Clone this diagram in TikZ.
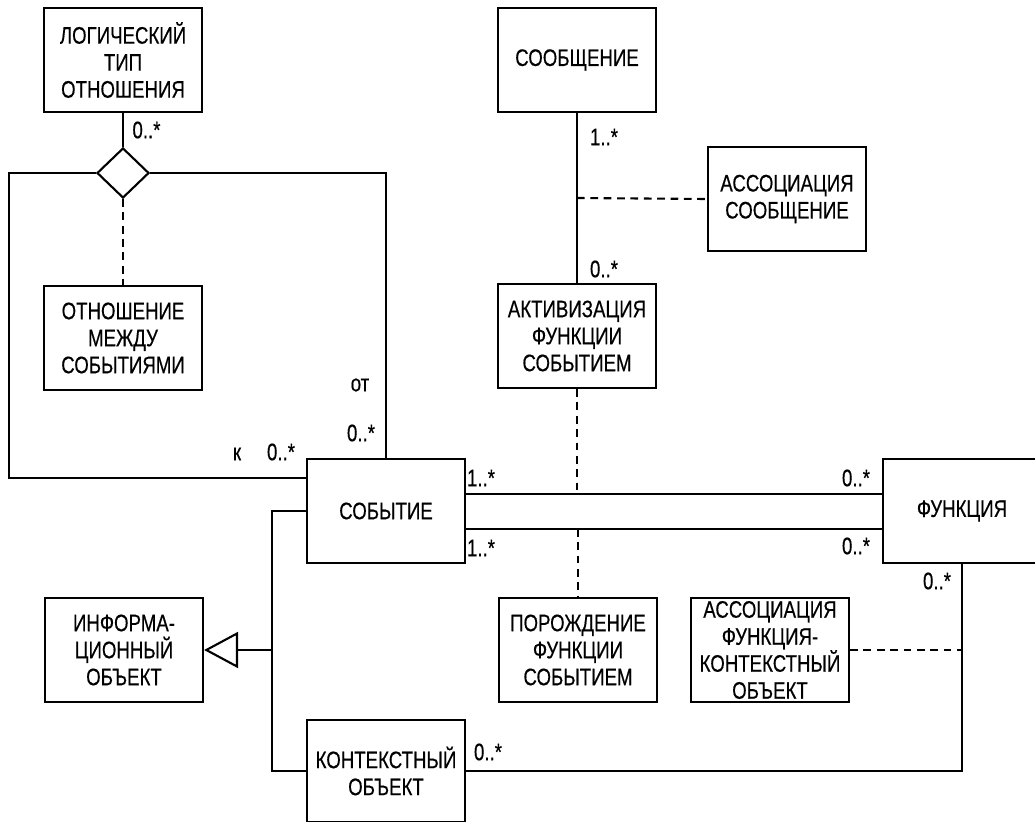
\documentclass[tikz,border=0pt]{standalone}
\usepackage{fontspec}
\setmainfont{Liberation Sans}[FakeStretch=0.78, FakeBold=0.4]
\usepackage{tikz}
\usetikzlibrary{shapes.geometric,arrows.meta,calc}

\tikzset{
    entity/.style={draw, line width=1.5pt, minimum width=3.95cm, minimum height=2.6cm,
        align=center, inner sep=0pt},
    mult/.style={inner sep=0pt},
    assoc/.style={dash pattern=on 5.5pt off 4pt}
}

\begin{document}
\begin{tikzpicture}[x=0.025cm, y=-0.025cm, line width=1.5pt,
    font=\fontsize{17}{19.2}\selectfont]
    \useasboundingbox (0,0) rectangle (1035,822);

    % entities
    \node[entity] (logtip) at (123, 60) {ЛОГИЧЕСКИЙ\\ТИП\\ОТНОШЕНИЯ};
    \node[entity] (otnosh) at (123, 338) {ОТНОШЕНИЕ\\МЕЖДУ\\СОБЫТИЯМИ};
    \node[entity] (sobyt) at (386, 511) {СОБЫТИЕ};
    \node[entity] (info) at (124, 650) {ИНФОРМА-\\ЦИОННЫЙ\\ОБЪЕКТ};
    \node[entity, minimum height=2.55cm] (kontekst) at (386, 771) {КОНТЕКСТНЫЙ\\ОБЪЕКТ};
    \node[entity] (soobsh) at (577, 60) {СООБЩЕНИЕ};
    \node[entity] (assocsoob) at (787, 199) {АССОЦИАЦИЯ\\СООБЩЕНИЕ};
    \node[entity] (aktiv) at (577, 336) {АКТИВИЗАЦИЯ\\ФУНКЦИИ\\СОБЫТИЕМ};
    \node[entity] (porozh) at (578, 650) {ПОРОЖДЕНИЕ\\ФУНКЦИИ\\СОБЫТИЕМ};
    \node[entity] (assocfk) at (770, 650) {АССОЦИАЦИЯ\\ФУНКЦИЯ-\\КОНТЕКСТНЫЙ\\ОБЪЕКТ};
    \node[entity] (funk) at (962, 511) {ФУНКЦИЯ};

    % aggregation diamond
    \node[draw, diamond, aspect=1.04, minimum width=1.3cm, minimum height=1.25cm,
        inner sep=0pt, fill=white] (agg) at (123, 173) {};

    % relation between events
    \coordinate (loopL) at (9, 478);
    \draw (logtip.south) -- (agg.north) node[mult, pos=0.5, right=6pt] {0..*};
    \draw (agg.west) -| (loopL) -- (loopL -| sobyt.west);
    \draw (agg.east) -| (sobyt.north);
    \draw[assoc] (agg.south) -- (otnosh.north);
    \node[mult] (lblot) at (360, 385) {от};
    \node[mult] (lblot2) at (361, 433) {0..*};
    \node[mult] (lblk) at (237, 454) {к};
    \node[mult] (lblk2) at (281, 452) {0..*};

    % message association
    \draw (soobsh.south) -- (aktiv.north);
    \draw[assoc] ($(soobsh.south)!0.5!(aktiv.north)$) -- (assocsoob.west);
    \node[mult] (lbls1) at (604, 137) {1..*};
    \node[mult] (lbls2) at (604, 269) {0..*};

    % event - function
    \coordinate (upper) at (0, 494);
    \coordinate (lower) at (0, 529);
    \draw (sobyt.east |- upper) -- (funk.west |- upper);
    \draw (sobyt.east |- lower) -- (funk.west |- lower);
    \draw[assoc] (aktiv.south) -- (aktiv.south |- upper);
    \draw[assoc] (porozh.north |- lower) -- (porozh.north);
    \node[mult] (lblf1) at (481, 478) {1..*};
    \node[mult] (lblf2) at (481, 548) {1..*};
    \node[mult] (lblf3) at (856, 478) {0..*};
    \node[mult] (lblf4) at (856, 546) {0..*};

    % function - context object
    \draw (funk.south) |- (kontekst.east);
    \draw[assoc] (assocfk.east) -- (assocfk.east -| funk.south);
    \node[mult] (lblc1) at (937, 581) {0..*};
    \node[mult] (lblc2) at (488, 752) {0..*};

    % generalization
    \coordinate (gen) at (272, 650);
    \draw (sobyt.west) -| (gen) |- (kontekst.west);
    \draw[-{Triangle[open, length=0.85cm, width=0.9cm]}] (gen) -- (info.east);
\end{tikzpicture}
\end{document}
